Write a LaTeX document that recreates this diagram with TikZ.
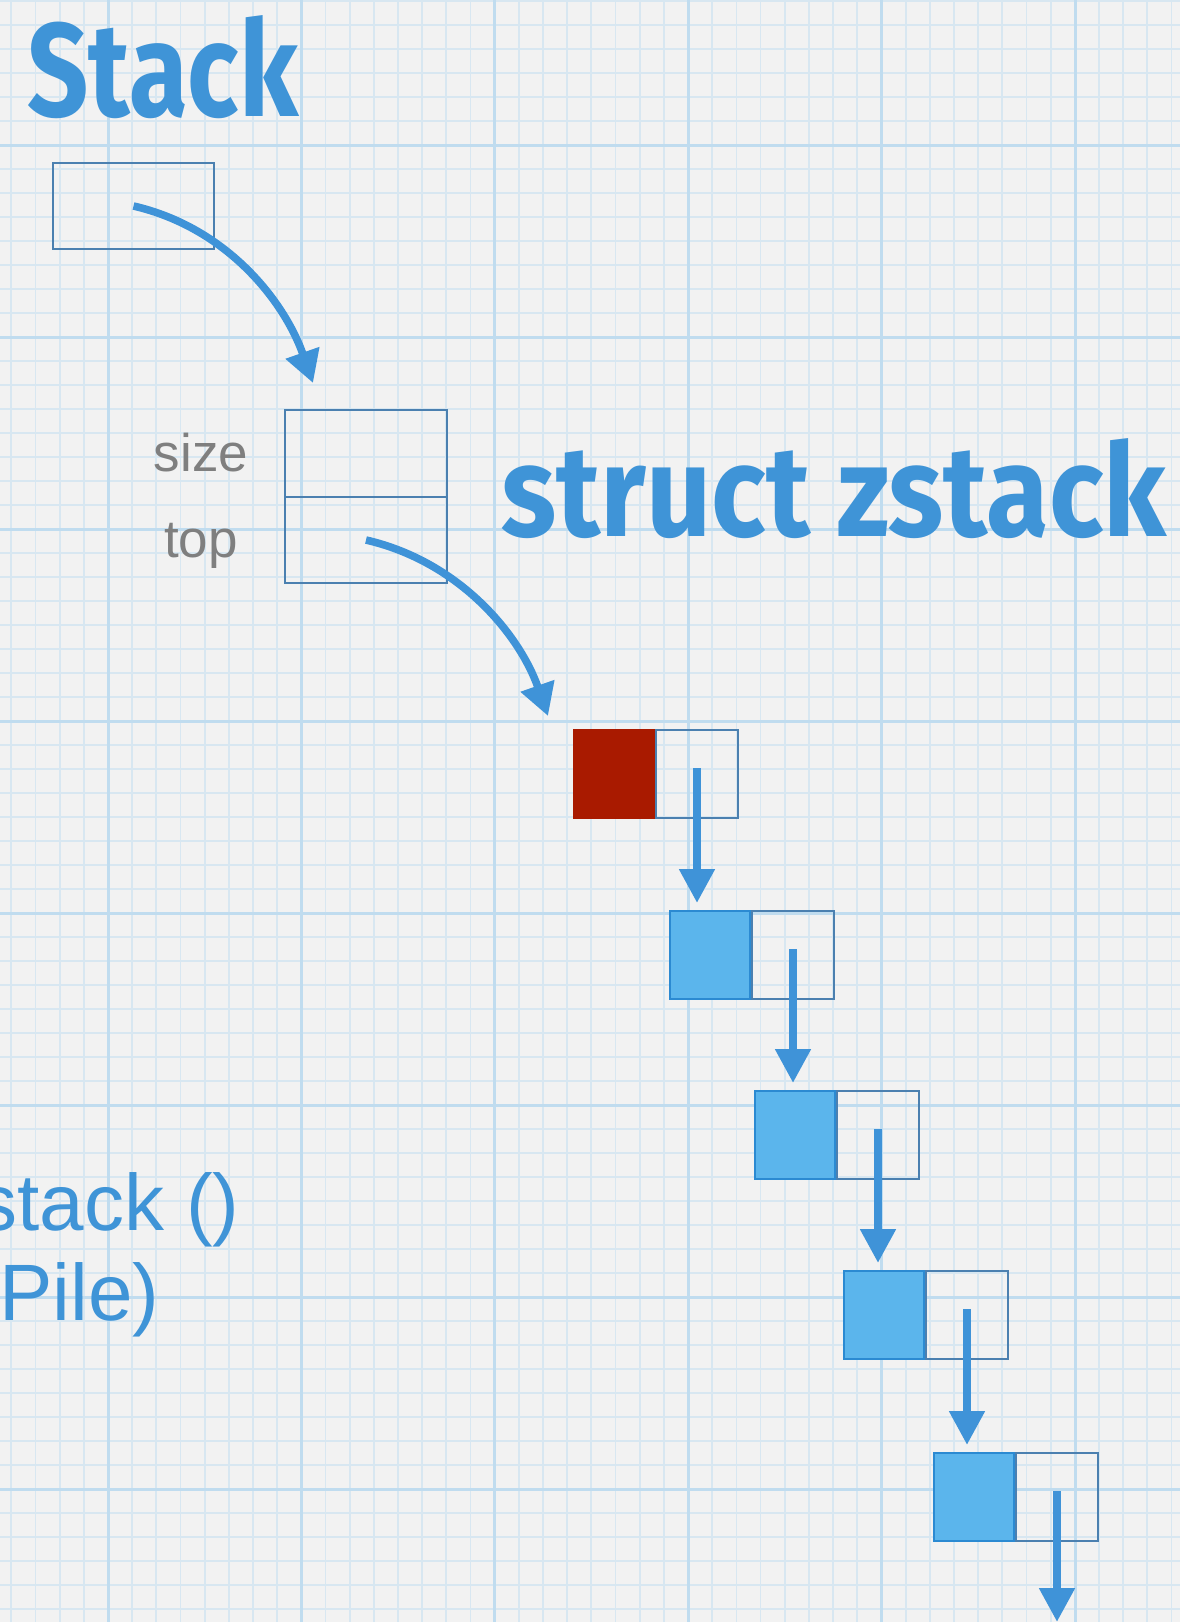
\documentclass[tikz,border=0pt]{standalone}
\usepackage{fontspec}
\setmainfont{Liberation Sans}
\newfontfamily\handfont{Fira Sans}
\usetikzlibrary{arrows.meta,calc}
\definecolor{paper}{HTML}{F2F2F2}
\definecolor{gridminor}{HTML}{D8E7F1}
\definecolor{gridmajor}{HTML}{C0DCEF}
\definecolor{headblue}{HTML}{3F94D7}
\definecolor{steel}{HTML}{4B80B0}
\definecolor{arrowblue}{HTML}{3F93D8}
\definecolor{nodered}{HTML}{A91A00}
\definecolor{nodeblue}{HTML}{5BB5EC}
\definecolor{nodeblueedge}{HTML}{2B8AD2}
\definecolor{labelgray}{HTML}{7F7F7F}
\tikzset{
  minorline/.style={gridminor, line width=0.9pt},
  majorline/.style={gridmajor, line width=1.5pt},
  steelbox/.style={draw=steel, line width=1pt, inner sep=0pt, anchor=north west},
  valbox/.style={draw=nodeblueedge, fill=nodeblue, line width=1pt, inner sep=0pt,
     minimum width=40pt, minimum height=44pt, anchor=north west},
  redbox/.style={valbox, fill=nodered, draw=nodered},
  ptrbox/.style={steelbox, minimum width=41pt, minimum height=44pt},
  curvearrow/.style={arrowblue, line width=3.8pt, -{Triangle[length=16pt,width=17pt]}},
  listarrow/.style={arrowblue, line width=4pt, -{Triangle[length=17pt,width=17pt]}},
  fieldlabel/.style={labelgray, inner sep=0pt, anchor=base, font=\fontsize{26.5pt}{30pt}\selectfont},
  sidetext/.style={headblue, inner sep=0pt, anchor=base east, font=\fontsize{40pt}{46pt}\selectfont},
  heading/.style={headblue, inner sep=0pt, anchor=base west, font=\handfont\bfseries}
}
\begin{document}
\begin{tikzpicture}[x=0.5pt,y=-0.5pt]
\useasboundingbox (0,0) rectangle (1180,1622);
\clip (0,0) rectangle (1180,1622);
\fill[paper] (0,0) rectangle (1180,1622);
% grid
\foreach \i in {0,...,67} \draw[minorline] (0,1+24*\i) -- (1180,1+24*\i);
\foreach \i in {0,...,48} \draw[minorline] (11.3+24.17*\i,0) -- (11.3+24.17*\i,1622);
\foreach \i in {0,...,5} \draw[majorline] (108+193.4*\i,0) -- (108+193.4*\i,1622);
\foreach \i in {0,...,7} \draw[majorline] (0,145+192*\i) -- (1180,145+192*\i);

% headings
\node[heading] (hstack) at (27,116) {\resizebox{135.5pt}{50.5pt}{Stack}};
\node[heading] (hstruct) at (501,536) {\resizebox{332.5pt}{49pt}{struct zstack}};

% stack pointer box
\node[steelbox, minimum width=80.5pt, minimum height=43pt] (sbox) at (52,162) {};

% struct zstack
\node[steelbox, minimum width=81pt, minimum height=43.5pt] (rsize) at (284,409) {};
\node[steelbox, minimum width=81pt, minimum height=43pt] (rtop) at (284,496) {};
\node[fieldlabel] (lsize) at (201,471) {size};
\node[fieldlabel] (ltop) at (201,557) {top};

% curved arrows
\coordinate (a1end) at (313,383);
\coordinate (a2end) at (548,716);
\draw[curvearrow] (sbox.center) .. controls +(95,22) and +(-28,-80) .. (a1end);
\draw[curvearrow] (rtop.center) .. controls +(95,22) and +(-28,-80) .. (a2end);

% list nodes
\node[redbox] (n1v) at (573,729) {};
\node[ptrbox] (n1p) at (n1v.north east) {};
\node[valbox] (n2v) at (669,910) {};
\node[ptrbox] (n2p) at (n2v.north east) {};
\node[valbox] (n3v) at (754,1090) {};
\node[ptrbox] (n3p) at (n3v.north east) {};
\node[valbox] (n4v) at (843,1270) {};
\node[ptrbox] (n4p) at (n4v.north east) {};
\node[valbox] (n5v) at (933,1452) {};
\node[ptrbox] (n5p) at (n5v.north east) {};
\coordinate (tailend) at (1055,1622);

\draw[listarrow] ([yshift=3pt]n1p.center) -- ([yshift=3.5pt]n1p.center |- n2v.north);
\draw[listarrow] ([yshift=3pt]n2p.center) -- ([yshift=3.5pt]n2p.center |- n3v.north);
\draw[listarrow] ([yshift=3pt]n3p.center) -- ([yshift=3.5pt]n3p.center |- n4v.north);
\draw[listarrow] ([yshift=3pt]n4p.center) -- ([yshift=3.5pt]n4p.center |- n5v.north);
\draw[listarrow] ([yshift=3pt]n5p.center) -- (n5p.center |- tailend);

% side text
\node[sidetext] (tstack) at (240,1230) {stack ()};
\node[sidetext] (tpile) at (160,1320) {Pile)};
\end{tikzpicture}
\end{document}
